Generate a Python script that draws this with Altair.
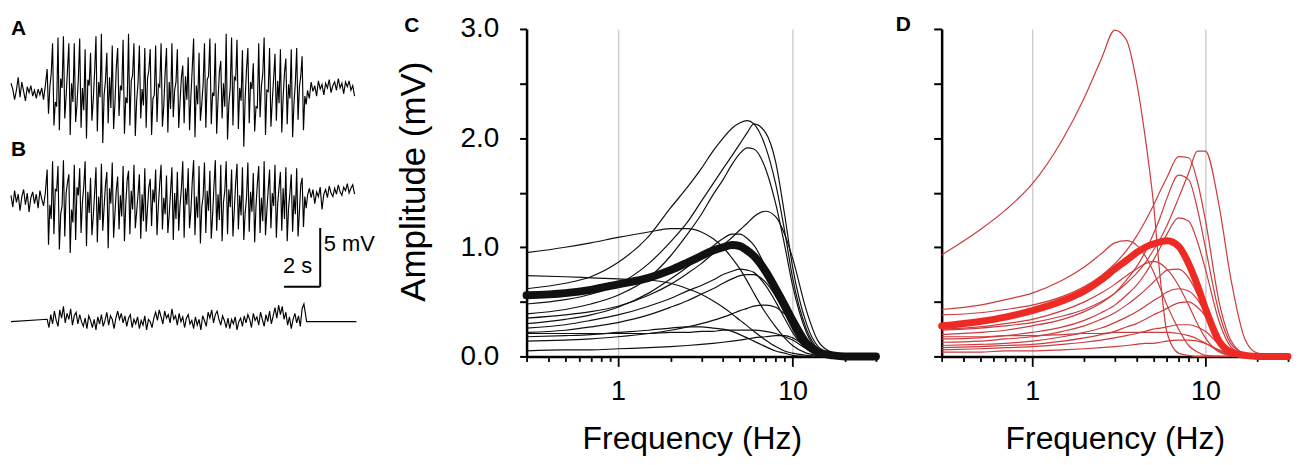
import altair as alt
import pandas as pd

FONT = "Liberation Sans"

# ---------------- Panels C / D : amplitude vs frequency ----------------
FREQ = [0.3, 0.5, 0.7, 1, 1.5, 2, 2.5, 3, 3.5, 4, 4.5, 5, 5.5, 6, 7, 8, 9, 10, 12, 14, 17, 20, 30]

C_MEAN = [0.56, 0.58, 0.61, 0.66, 0.72, 0.79, 0.86, 0.92, 0.97, 1.00, 1.02, 1.01, 0.97, 0.92, 0.78, 0.62, 0.47, 0.33, 0.12, 0.04, 0.01, 0.0, 0.0]
C01 = [0.95, 1.00, 1.04, 1.09, 1.14, 1.17, 1.17, 1.14, 1.08, 1.00, 0.90, 0.80, 0.69, 0.58, 0.40, 0.27, 0.17, 0.10, 0.03, 0.01, 0, 0, 0]
C02 = [0.74, 0.73, 0.72, 0.71, 0.70, 0.67, 0.62, 0.57, 0.51, 0.45, 0.39, 0.33, 0.28, 0.23, 0.15, 0.09, 0.05, 0.03, 0.01, 0, 0, 0, 0]
C03 = [0.62, 0.67, 0.73, 0.86, 1.10, 1.36, 1.55, 1.72, 1.88, 2.00, 2.09, 2.14, 2.16, 2.13, 1.92, 1.58, 1.15, 0.72, 0.25, 0.07, 0.01, 0, 0]
C04 = [0.48, 0.52, 0.57, 0.66, 0.85, 1.05, 1.23, 1.42, 1.58, 1.72, 1.84, 1.95, 2.05, 2.13, 2.05, 1.78, 1.30, 0.82, 0.30, 0.09, 0.02, 0, 0]
C05 = [0.39, 0.43, 0.48, 0.56, 0.72, 0.92, 1.12, 1.30, 1.48, 1.62, 1.76, 1.86, 1.91, 1.90, 1.72, 1.40, 1.02, 0.65, 0.22, 0.06, 0.01, 0, 0]
C06 = [0.35, 0.38, 0.41, 0.46, 0.56, 0.66, 0.76, 0.85, 0.94, 1.02, 1.09, 1.16, 1.22, 1.28, 1.33, 1.28, 1.12, 0.90, 0.42, 0.14, 0.03, 0, 0]
C07 = [0.30, 0.34, 0.38, 0.45, 0.58, 0.71, 0.82, 0.92, 1.01, 1.08, 1.12, 1.12, 1.08, 1.02, 0.82, 0.60, 0.40, 0.25, 0.07, 0.02, 0, 0, 0]
C08 = [0.26, 0.29, 0.33, 0.38, 0.46, 0.53, 0.60, 0.65, 0.70, 0.75, 0.78, 0.80, 0.79, 0.77, 0.65, 0.50, 0.35, 0.22, 0.07, 0.02, 0, 0, 0]
C09 = [0.22, 0.24, 0.27, 0.31, 0.38, 0.45, 0.51, 0.57, 0.62, 0.67, 0.71, 0.74, 0.75, 0.75, 0.68, 0.55, 0.40, 0.28, 0.09, 0.03, 0, 0, 0]
C10 = [0.18, 0.19, 0.20, 0.22, 0.24, 0.26, 0.27, 0.27, 0.26, 0.25, 0.23, 0.20, 0.17, 0.14, 0.09, 0.05, 0.03, 0.01, 0, 0, 0, 0, 0]
C11 = [0.21, 0.21, 0.21, 0.21, 0.21, 0.22, 0.22, 0.23, 0.23, 0.24, 0.24, 0.24, 0.24, 0.24, 0.23, 0.21, 0.18, 0.15, 0.07, 0.02, 0, 0, 0]
C12 = [0.05, 0.06, 0.06, 0.07, 0.08, 0.09, 0.10, 0.11, 0.12, 0.13, 0.14, 0.15, 0.16, 0.17, 0.18, 0.19, 0.19, 0.17, 0.09, 0.03, 0.01, 0, 0]
C13 = [0.14, 0.15, 0.16, 0.18, 0.21, 0.24, 0.27, 0.30, 0.33, 0.36, 0.39, 0.42, 0.44, 0.46, 0.47, 0.45, 0.39, 0.32, 0.14, 0.04, 0.01, 0, 0]

D_MEAN = [0.28, 0.32, 0.36, 0.42, 0.51, 0.60, 0.70, 0.80, 0.88, 0.95, 1.00, 1.03, 1.05, 1.06, 1.01, 0.85, 0.65, 0.44, 0.14, 0.04, 0.01, 0, 0]
D01 = [0.93, 1.16, 1.34, 1.58, 1.99, 2.37, 2.72, 2.99, 2.90, 2.52, 2.00, 1.42, 0.70, 0.22, 0.03, 0.01, 0, 0, 0, 0, 0, 0, 0]
D02 = [0.43, 0.47, 0.52, 0.58, 0.70, 0.82, 0.94, 1.04, 1.06, 1.02, 0.92, 0.78, 0.62, 0.47, 0.25, 0.10, 0.04, 0.01, 0, 0, 0, 0, 0]
D03 = [0.38, 0.40, 0.43, 0.47, 0.55, 0.64, 0.74, 0.85, 0.97, 1.10, 1.24, 1.38, 1.52, 1.64, 1.83, 1.82, 1.60, 1.25, 0.50, 0.15, 0.02, 0, 0]
D04 = [0.24, 0.26, 0.28, 0.31, 0.37, 0.43, 0.50, 0.58, 0.67, 0.76, 0.86, 0.97, 1.08, 1.20, 1.45, 1.68, 1.88, 1.88, 1.38, 0.72, 0.15, 0.03, 0]
D05 = [0.20, 0.22, 0.24, 0.28, 0.34, 0.41, 0.49, 0.58, 0.70, 0.82, 0.96, 1.12, 1.28, 1.45, 1.66, 1.62, 1.35, 1.00, 0.40, 0.12, 0.02, 0, 0]
D06 = [0.16, 0.17, 0.19, 0.22, 0.27, 0.33, 0.40, 0.47, 0.56, 0.65, 0.76, 0.88, 1.00, 1.12, 1.27, 1.24, 1.05, 0.80, 0.32, 0.09, 0.01, 0, 0]
D07 = [0.25, 0.27, 0.30, 0.34, 0.42, 0.50, 0.58, 0.66, 0.74, 0.80, 0.85, 0.87, 0.85, 0.80, 0.65, 0.47, 0.30, 0.17, 0.04, 0.01, 0, 0, 0]
D08 = [0.13, 0.14, 0.16, 0.18, 0.23, 0.28, 0.34, 0.40, 0.47, 0.54, 0.61, 0.68, 0.74, 0.79, 0.80, 0.72, 0.57, 0.40, 0.13, 0.03, 0, 0, 0]
D09 = [0.10, 0.11, 0.12, 0.14, 0.18, 0.22, 0.26, 0.31, 0.36, 0.41, 0.46, 0.51, 0.55, 0.59, 0.62, 0.60, 0.52, 0.40, 0.16, 0.04, 0, 0, 0]
D10 = [0.08, 0.09, 0.10, 0.11, 0.14, 0.17, 0.20, 0.23, 0.27, 0.30, 0.34, 0.38, 0.41, 0.44, 0.49, 0.50, 0.45, 0.37, 0.16, 0.05, 0.01, 0, 0]
D11 = [0.06, 0.07, 0.08, 0.09, 0.11, 0.13, 0.15, 0.17, 0.19, 0.21, 0.23, 0.25, 0.26, 0.27, 0.29, 0.29, 0.27, 0.23, 0.11, 0.03, 0, 0, 0]
D12 = [0.18, 0.18, 0.19, 0.19, 0.20, 0.21, 0.21, 0.22, 0.22, 0.22, 0.22, 0.22, 0.22, 0.22, 0.21, 0.19, 0.16, 0.12, 0.05, 0.01, 0, 0, 0]
D13 = [0.04, 0.04, 0.05, 0.05, 0.06, 0.07, 0.08, 0.09, 0.10, 0.11, 0.12, 0.12, 0.13, 0.14, 0.15, 0.15, 0.14, 0.12, 0.06, 0.02, 0, 0, 0]

X_TICKS = [0.3, 0.4, 0.5, 0.6, 0.7, 0.8, 0.9, 1, 2, 3, 4, 5, 6, 7, 8, 9, 10, 20, 30]
Y_TICKS = [0, 0.5, 1.0, 1.5, 2.0, 2.5, 3.0]

# ---------------- Panels A / B : voltage traces (mV) ----------------
A_PRE = [0.8, 0.3, -0.6, 0.2, 1.3, -0.4, 0.9, 0.1, -0.7, 0.5, 0.0, 0.6, -0.3, 0.2, -0.5, 0.3, -0.2, 0.4, -0.6, 0.6]
A_PEAK = [2.0, 4.2, 4.7, 4.8, 4.2, 4.2, 4.6, 3.7, 3.4, 4.8, 5.0, 3.4, 4.0, 3.8, 4.5, 5.0, 4.2, 4.0, 3.8, 3.7,
          4.0, 4.2, 3.8, 4.2, 3.7, 2.3, 3.0, 4.6, 3.4, 4.2, 4.6, 4.2, 2.7, 5.0, 4.7, 4.5, 3.6, 3.8, 2.5, 4.2,
          4.7, 3.8, 3.3, 3.7, 2.9, 3.7, 3.8, 3.1]
A_TROUGH = [-1.8, -2.8, -3.2, -2.2, -3.6, -2.5, -3.0, -3.9, -2.4, -3.3, -4.3, -2.6, -3.1, -2.0, -3.5, -2.8, -3.7, -2.2, -3.0, -3.6,
            -2.5, -2.9, -3.4, -2.1, -3.0, -2.6, -3.2, -3.8, -2.4, -3.0, -2.7, -3.5, -2.2, -4.0, -2.8, -3.1, -4.6, -2.6, -3.3, -2.1,
            -3.6, -2.9, -2.4, -3.4, -2.7, -3.8, -2.3, -3.2]
A_MID = [0.5, -0.8, 1.2, -0.3, 0.8, -1.0, 0.4, 1.1, -0.6, 0.9, -0.2, 1.3, -0.9, 0.6, -0.4, 1.0, -0.7, 0.3, 1.2, -0.5,
         0.7, -1.1, 0.9, 0.2, -0.8, 1.4, -0.3, 0.6, -1.0, 1.1, 0.0, -0.6, 0.8, -0.9, 1.3, 0.4, -0.5, 0.9, -1.2, 0.6,
         0.2, -0.7, 1.0, -0.4, 0.7, -0.9, 0.5, -0.3]
A_MID2 = [1.6, -1.2, 0.4, 2.0, -0.8, 1.2, -1.5, 0.6, 1.8, -0.4, 1.0, -1.3, 2.2, 0.2, -0.9, 1.5, 0.8, -1.1, 1.9, -0.2,
          0.5, 1.7, -1.4, 0.9, 1.3, -0.6, 2.1, -1.0, 0.7, 1.4, -0.3, 1.8, -1.2, 0.4, 1.1, -0.7, 2.0, 0.3, -1.3, 1.6,
          0.1, 1.2, -0.9, 1.7, -0.5, 0.8, 1.4, -1.0]
A_POST = [0.2, -0.5, 0.9, 0.1, 0.6, -0.3, 1.0, 0.3, 0.7, -0.2, 0.8, 0.4, 1.1, 0.0, 0.6, 0.9, 0.2, 1.2, 0.4, 0.8,
          -0.1, 0.9, 0.5, 1.0, 0.2, 0.6, -0.3]

B_PRE = [0.4, -0.6, 0.8, -0.2, 0.5, -0.9, 0.3, 0.9, -0.4, 0.6, -1.0, 0.2, 0.7, -0.3, 0.5, -0.7, 0.8, 0.1, -0.5, 0.6]
B_PEAK = [2.6, 3.3, 2.9, 3.4, 2.2, 3.0, 2.7, 3.3, 1.9, 2.8, 3.1, 2.4, 3.2, 2.0, 2.9, 2.5, 3.0, 2.2, 2.7, 1.8,
          2.6, 3.0, 2.1, 2.8, 2.4, 3.3, 2.7, 3.4, 2.9, 3.2, 2.5, 3.4, 3.0, 3.3, 2.6, 3.1, 2.8, 3.2, 2.3, 2.9,
          3.3, 2.6, 3.0, 2.4, 2.8, 2.2, 2.7, 1.9]
B_TROUGH = [-3.8, -2.9, -4.2, -3.1, -4.5, -3.4, -2.8, -3.9, -3.0, -3.6, -2.6, -4.1, -3.2, -2.5, -3.5, -2.9, -2.4, -3.3, -2.7, -2.2,
            -3.0, -2.5, -2.8, -3.4, -2.6, -3.2, -2.4, -3.0, -3.7, -2.8, -3.3, -2.6, -3.5, -2.9, -3.1, -2.5, -3.4, -2.7, -3.6, -2.8,
            -3.0, -2.4, -3.2, -2.6, -3.5, -2.7, -3.1, -2.3]
B_MID = [-0.4, 0.9, -1.2, 0.6, -0.8, 1.1, -0.2, 0.7, -1.4, 0.3, -0.6, 1.0, -1.1, 0.4, -0.3, 0.8, -1.0, 0.5, -0.7, 0.9,
         -0.5, 0.2, -1.2, 0.6, -0.4, 1.0, -0.9, 0.3, -0.6, 0.8, -1.3, 0.5, -0.2, 0.9, -0.8, 0.4, -1.1, 0.7, -0.5, 0.2,
         -0.9, 0.6, -0.3, 1.0, -0.7, 0.4, -1.0, 0.3]
B_MID2 = [-1.6, 0.8, -0.5, 1.5, -1.9, 0.4, 1.2, -1.1, 0.6, -1.7, 1.3, -0.3, 0.9, -1.4, 1.7, -0.8, 0.5, -1.8, 1.1, -0.2,
          1.4, -1.2, 0.7, -1.6, 1.0, -0.4, 1.6, -1.5, 0.3, -0.9, 1.2, -1.7, 0.8, -0.6, 1.5, -1.3, 0.2, -1.0, 1.4, -1.8,
          0.9, -0.5, 1.1, -1.6, 0.6, -1.2, 1.3, -0.7]
B_POST = [0.4, 1.0, 0.2, 0.9, -0.3, 0.7, 0.3, 1.1, -0.8, 0.5, 0.9, 0.2, 1.2, 0.6, 0.3, 1.0, 0.5, 1.3, 0.7, 0.4,
          1.1, 0.8, 1.4, 0.6, 1.0, 1.3, 0.5]

CTRL_NOISE = [0.2, -0.5, 0.6, -0.2, 0.9, 0.1, -0.4, 1.0, 0.3, 1.3, -0.1, 0.7, 0.2, 1.1, -0.3, 0.5, 0.8, -0.2, 0.6, 0.0,
              -0.4, 0.3, -0.6, 0.5, 0.1, -0.5, 0.2, -0.7, 0.4, -0.2, 0.6, -0.4, 0.1, 0.8, -0.3, 0.5, 0.2, -0.6, 0.3, 0.9,
              0.2, 0.7, -0.1, 0.5, -0.4, 0.3, 0.6, -0.5, 0.2, -0.2, 0.4, -0.6, 0.1, -0.3, 0.5, -0.7, 0.2, 0.0, -0.5, 0.3,
              0.8, 0.1, 1.0, 0.4, -0.2, 0.9, 0.3, 0.6, -0.1, 1.1, 0.2, 0.5, -0.3, 0.7, 0.0, 0.4, -0.5, 0.3, 0.6, -0.2,
              0.1, -0.6, 0.4, -0.3, 0.2, -0.7, 0.5, 0.1, -0.4, 0.8, 0.3, 1.0, -0.1, 0.6, 0.9, 0.2, -0.3, 0.5, 0.1, -0.5,
              0.3, -0.6, 0.2, -0.2, 0.4, -0.7, 0.0, 0.3, -0.4, 0.5, -0.1, 0.6, 0.2, -0.5, 0.7, 0.1, 0.4, -0.3, 0.8, 0.2,
              -0.4, 0.6, 0.0, 0.9, -0.2, 0.5, 1.2, 0.3, 1.4, 0.6, 1.3, 0.2, 0.8,
              -0.3, 0.4, -0.6, 0.2, 0.7, -0.1, 0.5, -0.4, 1.1, 1.5]

PRE_DT = 0.1          # s per sample, quiet segments
BURST_START = 2.0     # s
BURST_DT = 0.075      # s per sample inside the burst
POST_START = 16.4     # s
CTRL_START = 2.0
CTRL_DT = 0.1
CTRL_END_T = [16.35, 19.1]

TRACE_OFFSETS = {"A": 0.0, "B": -9.15, "ctrl": -19.5}   # vertical stacking (mV)
SCALE_BAR_T = [15.1, 17.1]      # 2 s
SCALE_BAR_V = [-16.53, -11.53]  # 5 mV

# ---------------- build tables ----------------
def curves(named):
    rows = []
    for name, vals in named.items():
        for f, v in zip(FREQ, vals):
            rows.append({"curve": name, "f": f, "v": v})
    return pd.DataFrame(rows)

c_thin = curves({"C01": C01, "C02": C02, "C03": C03, "C04": C04, "C05": C05, "C06": C06, "C07": C07,
                 "C08": C08, "C09": C09, "C10": C10, "C11": C11, "C12": C12, "C13": C13})
c_mean = curves({"mean": C_MEAN})
d_thin = curves({"D01": D01, "D02": D02, "D03": D03, "D04": D04, "D05": D05, "D06": D06, "D07": D07,
                 "D08": D08, "D09": D09, "D10": D10, "D11": D11, "D12": D12, "D13": D13})
d_mean = curves({"mean": D_MEAN})


def trace_points(name, pre, peak, trough, mid, mid2, post):
    off = TRACE_OFFSETS[name]
    pts = [(i * PRE_DT, v) for i, v in enumerate(pre)]
    burst = []
    for p, tr, m, m2 in zip(peak, trough, mid, mid2):
        burst += [p, tr, m, m2]
    pts += [(BURST_START + j * BURST_DT, v) for j, v in enumerate(burst)]
    pts += [(POST_START + k * PRE_DT, v) for k, v in enumerate(post)]
    return [{"trace": name, "t": t, "v": v + off} for t, v in pts]


trace_rows = trace_points("A", A_PRE, A_PEAK, A_TROUGH, A_MID, A_MID2, A_POST)
trace_rows += trace_points("B", B_PRE, B_PEAK, B_TROUGH, B_MID, B_MID2, B_POST)
off = TRACE_OFFSETS["ctrl"]
trace_rows.append({"trace": "ctrl", "t": 0.0, "v": off})
for i, v in enumerate(CTRL_NOISE):
    trace_rows.append({"trace": "ctrl", "t": CTRL_START + i * CTRL_DT, "v": v + off})
for t in CTRL_END_T:
    trace_rows.append({"trace": "ctrl", "t": t, "v": off})
traces = pd.DataFrame(trace_rows)

bar = pd.DataFrame([
    {"t": SCALE_BAR_T[0], "t2": SCALE_BAR_T[1], "v": SCALE_BAR_V[0], "v2": SCALE_BAR_V[0]},
    {"t": SCALE_BAR_T[1], "t2": SCALE_BAR_T[1], "v": SCALE_BAR_V[0], "v2": SCALE_BAR_V[1]},
])
lbl_s = pd.DataFrame([{"t": 15.85, "v": -14.8, "text": "2 s"}])
lbl_mv = pd.DataFrame([{"t": 17.3, "v": -12.9, "text": "5 mV"}])
lbl_b = pd.DataFrame([{"t": 0.0, "v": -4.92, "text": "B"}])

# ---------------- left column ----------------
tx = alt.X("t:Q", scale=alt.Scale(domain=[0, 24.88], nice=False, zero=False), axis=None)
ty = alt.Y("v:Q", scale=alt.Scale(domain=[-21.02, 5.42], nice=False, zero=False), axis=None)

trace_lines = alt.Chart(traces).mark_line(color="black", strokeWidth=1.15).encode(
    x=tx, y=ty, detail="trace:N", order="t:Q")
bar_rules = alt.Chart(bar).mark_rule(color="black", strokeWidth=2).encode(
    x=tx, x2="t2:Q", y=ty, y2="v2:Q")
txt_s = alt.Chart(lbl_s).mark_text(font=FONT, fontSize=22, align="center", baseline="middle", color="black").encode(
    x=tx, y=ty, text="text:N")
txt_mv = alt.Chart(lbl_mv).mark_text(font=FONT, fontSize=22, align="left", baseline="middle", color="black").encode(
    x=tx, y=ty, text="text:N")
txt_b = alt.Chart(lbl_b).mark_text(font=FONT, fontSize=21, fontWeight="bold", align="left", baseline="middle",
                                   color="black").encode(x=tx, y=ty, text="text:N")

left = alt.layer(trace_lines, bar_rules, txt_s, txt_mv, txt_b).properties(
    width=452, height=312,
    title=alt.TitleParams("A", anchor="start", frame="group", fontSize=21, fontWeight="bold",
                          font=FONT, color="black", offset=-10))

# ---------------- C / D ----------------
MAJOR = "datum.value == 1 || datum.value == 10"


def x_axis(title_x=None):
    extra = {} if title_x is None else {"titleX": title_x}
    return alt.Axis(values=X_TICKS,
                    labelExpr="datum.value == 1 ? '1' : (datum.value == 10 ? '10' : '')",
                    title="Frequency (Hz)", titleFont=FONT, titleFontSize=32, titleFontWeight="normal",
                    titleColor="black", titlePadding=20,
                    labelFont=FONT, labelFontSize=27, labelColor="black", labelPadding=12,
                    labelFlush=False, labelOverlap=False,
                    tickSize={"condition": {"test": MAJOR, "value": 10}, "value": 5},
                    tickColor="black", tickWidth=1.8,
                    domainColor="black", domainWidth=2.5,
                    grid=True, gridColor="#cfcfcf", gridWidth=1.5,
                    gridOpacity={"condition": {"test": MAJOR, "value": 1}, "value": 0},
                    **extra)


def y_axis(labels):
    if labels:
        return alt.Axis(values=Y_TICKS,
                        labelExpr="datum.value % 1 == 0 ? format(datum.value, '.1f') : ''",
                        title="Amplitude (mV)", titleFont=FONT, titleFontSize=35, titleFontWeight="normal",
                        titleColor="black", titlePadding=29, titleY=153,
                        labelFont=FONT, labelFontSize=28, labelColor="black", labelPadding=21,
                        labelFlush=False, labelOverlap=False,
                        tickSize=7, tickColor="black", tickWidth=2,
                        domainColor="black", domainWidth=2.5, grid=False)
    return alt.Axis(values=Y_TICKS, labels=False, title=None,
                    tickSize=8, tickColor="black", tickWidth=2,
                    domainColor="black", domainWidth=2.5, grid=False)


def panel(thin, mean, color_thin, color_mean, mean_width, labels, letter, dx, offset, width, title_x=None):
    fx = alt.X("f:Q", scale=alt.Scale(type="log", domain=[0.3, 30], nice=False), axis=x_axis(title_x))
    fy = alt.Y("v:Q", scale=alt.Scale(domain=[0, 3], nice=False), axis=y_axis(labels))
    thin_l = alt.Chart(thin).mark_line(color=color_thin, strokeWidth=1.2, interpolate="monotone").encode(
        x=fx, y=fy, detail="curve:N", order="f:Q")
    mean_l = alt.Chart(mean).mark_line(color=color_mean, strokeWidth=mean_width, interpolate="monotone",
                                       strokeCap="round", strokeJoin="round").encode(
        x=fx, y=fy, detail="curve:N", order="f:Q")
    return alt.layer(thin_l, mean_l).properties(
        width=width, height=329,
        title=alt.TitleParams(letter, anchor="start", frame="group", fontSize=21, fontWeight="bold",
                              font=FONT, color="black", offset=offset, dx=dx))


c_panel = panel(c_thin, c_mean, "#111111", "#111111", 8, True, "C", -123, -21, 351, title_x=166)
d_panel = panel(d_thin, d_mean, "#cc3b3e", "#ee2a24", 7, False, "D", -46, -7, 348)

chart = alt.hconcat(left, c_panel, d_panel, spacing=66, bounds="flush").properties(
    padding={"left": 0, "top": 4, "right": 0, "bottom": 0}
).configure_view(stroke=None)

chart.save("out.html", embed_options={"renderer": "svg", "actions": False})
